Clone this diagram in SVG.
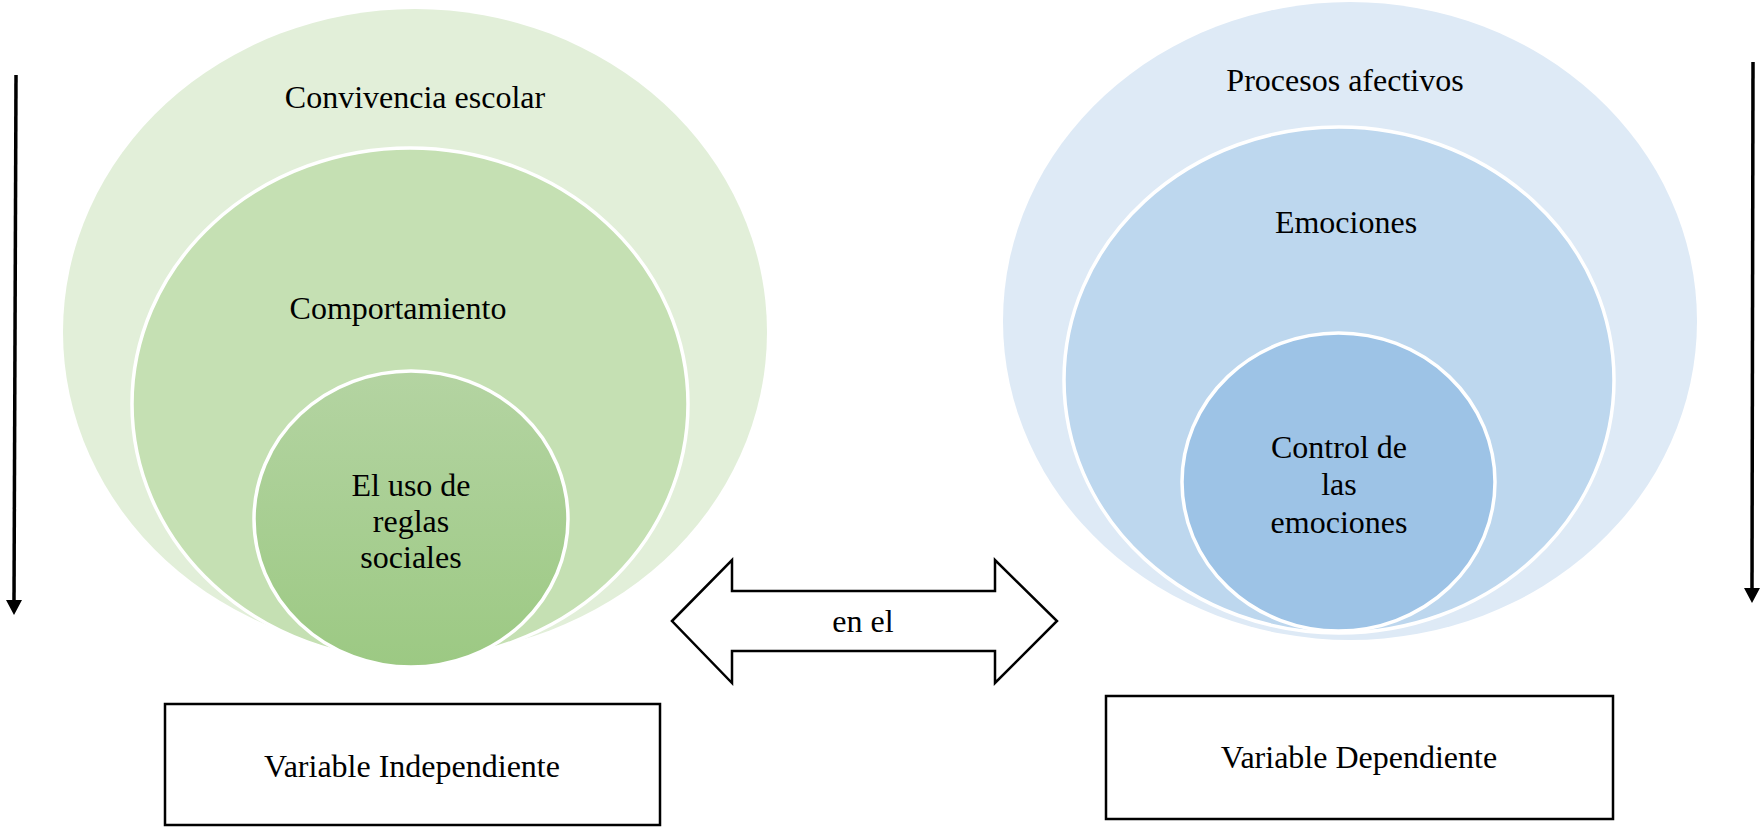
<svg xmlns="http://www.w3.org/2000/svg" width="1760" height="827" viewBox="0 0 1760 827">
<style>
text{font-family:"Liberation Serif","Times New Roman",serif;font-size:32px;fill:#000;text-anchor:middle}
.w{stroke:#fff;stroke-width:3.5}
.box{fill:#fff;stroke:#000;stroke-width:2.5}
.ln{stroke:#000;stroke-width:3.5;fill:none}
.head{fill:#000}
</style>
<defs>
<linearGradient id="gIn" x1="0" y1="0" x2="0" y2="1">
<stop offset="0" stop-color="#b4d4a2"/>
<stop offset="1" stop-color="#9cc983"/>
</linearGradient>
</defs>
<g id="left-outer"><ellipse cx="415" cy="332" rx="352" ry="323" fill="#e2efd9"/><text x="415" y="108">Convivencia escolar</text></g>
<g id="left-middle"><ellipse class="w" cx="410" cy="404" rx="278" ry="256" fill="#c5e0b3"/><text x="398" y="319">Comportamiento</text></g>
<g id="left-inner"><ellipse class="w" cx="411" cy="519" rx="157" ry="148" fill="url(#gIn)"/><text x="411" y="496">El uso de</text><text x="411" y="532">reglas</text><text x="411" y="568">sociales</text></g>
<g id="right-outer"><ellipse cx="1350" cy="321" rx="347" ry="319" fill="#deeaf6"/><text x="1345" y="91">Procesos afectivos</text></g>
<g id="right-middle"><ellipse class="w" cx="1339" cy="380" rx="275" ry="253" fill="#bdd7ee"/><text x="1346" y="233">Emociones</text></g>
<g id="right-inner"><ellipse class="w" cx="1338.5" cy="482" rx="156.5" ry="149" fill="#9dc3e6"/><text x="1339" y="458">Control de</text><text x="1339" y="495">las</text><text x="1339" y="533">emociones</text></g>
<g id="box-independiente"><rect class="box" x="165" y="704" width="495" height="121"/><text x="412" y="777">Variable Independiente</text></g>
<g id="box-dependiente"><rect class="box" x="1106" y="696" width="507" height="123"/><text x="1359" y="768">Variable Dependiente</text></g>
<g id="double-arrow"><path d="M672,621 L732,560 L732,591 L995,591 L995,560 L1057,621 L995,683 L995,651 L732,651 L732,683 Z" fill="#fff" stroke="#000" stroke-width="2.5" stroke-linejoin="miter"/><text x="863" y="632">en el</text></g>
<g id="connectors">
<line class="ln" x1="16" y1="75" x2="14" y2="602"/>
<path class="head" d="M6,600 L22,600 L14,615 Z"/>
<line class="ln" x1="1753" y1="62" x2="1752" y2="590"/>
<path class="head" d="M1744,588 L1760,588 L1752,603 Z"/>
</g>
</svg>
